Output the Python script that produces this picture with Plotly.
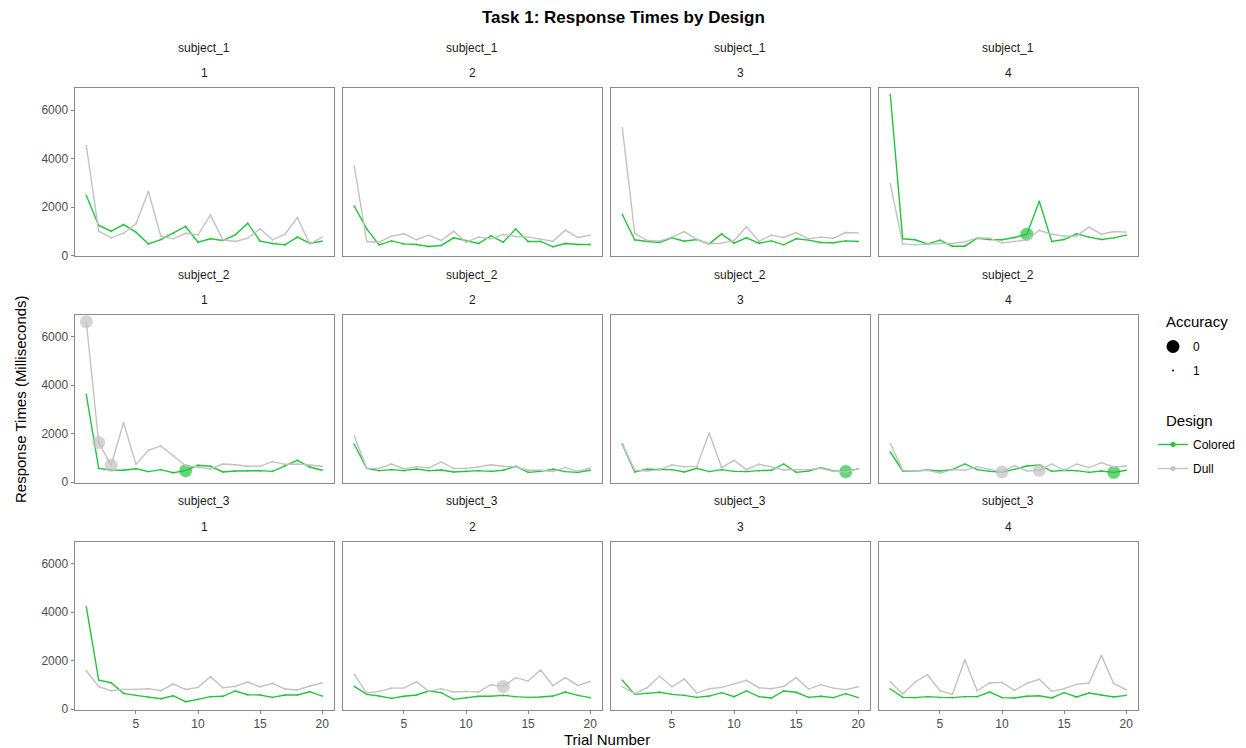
import plotly.graph_objects as go

W, H = 1246, 748
GREEN = "#22C43C"
GREY = "#C2C2C2"
FONT = "Liberation Sans, Arial, sans-serif"

subjects = ["subject_1", "subject_2", "subject_3"]
designs = ["1", "2", "3", "4"]
trials = list(range(1, 21))

# response times in ms, one list of 20 trials per design (1..4)
colored_s1 = [
    [2480, 1240, 1005, 1280, 965, 480, 660, 920, 1200, 550, 690, 620, 855, 1335, 590, 495, 440, 760, 510, 590],
    [2040, 1100, 440, 605, 480, 455, 370, 415, 730, 620, 495, 815, 550, 1100, 580, 580, 360, 495, 455, 455],
    [1695, 650, 580, 535, 730, 590, 660, 480, 895, 510, 730, 510, 605, 440, 690, 635, 535, 525, 605, 580],
    [6650, 690, 650, 480, 635, 385, 385, 715, 660, 650, 745, 880, 2245, 580, 660, 895, 760, 660, 730, 840],
]
dull_s1 = [
    [4545, 1005, 730, 920, 1310, 2645, 800, 690, 920, 855, 1680, 650, 580, 715, 1100, 650, 880, 1570, 470, 760],
    [3690, 580, 550, 800, 895, 650, 840, 620, 1005, 550, 760, 690, 870, 785, 760, 690, 590, 1045, 745, 840],
    [5275, 920, 620, 590, 760, 990, 660, 480, 510, 620, 1185, 590, 840, 745, 950, 690, 760, 715, 950, 935],
    [2960, 480, 440, 470, 495, 495, 565, 730, 715, 525, 590, 635, 1045, 880, 800, 800, 1170, 880, 990, 965],
]
colored_s2 = [
    [3615, 565, 495, 485, 550, 430, 510, 385, 470, 690, 650, 415, 455, 470, 470, 440, 660, 895, 620, 485],
    [1560, 565, 470, 510, 470, 540, 470, 495, 415, 430, 470, 440, 485, 650, 400, 440, 525, 430, 400, 485],
    [1560, 415, 525, 525, 510, 415, 565, 430, 510, 440, 430, 470, 485, 745, 400, 455, 595, 455, 430, 540],
    [1240, 455, 455, 495, 455, 510, 745, 510, 440, 415, 525, 660, 705, 440, 485, 470, 400, 455, 400, 485],
]
dull_s2 = [
    [6620, 1630, 690, 2455, 730, 1310, 1490, 1100, 675, 620, 540, 745, 715, 650, 660, 840, 730, 745, 705, 650],
    [1905, 565, 565, 745, 540, 635, 580, 830, 565, 565, 620, 715, 650, 620, 485, 485, 430, 605, 440, 580],
    [1585, 485, 455, 510, 705, 635, 635, 2030, 595, 895, 510, 730, 635, 495, 510, 510, 565, 440, 415, 540],
    [1585, 485, 455, 485, 370, 510, 485, 635, 525, 415, 675, 455, 485, 745, 485, 745, 595, 800, 620, 660],
]
colored_s3 = [
    [4220, 1195, 1085, 645, 565, 480, 425, 550, 300, 400, 510, 525, 745, 590, 580, 480, 580, 580, 715, 535],
    [935, 605, 535, 440, 525, 580, 745, 675, 400, 455, 525, 525, 565, 510, 480, 495, 535, 700, 565, 470],
    [1185, 605, 645, 690, 605, 565, 480, 535, 675, 510, 745, 510, 455, 745, 690, 480, 525, 470, 635, 470],
    [825, 480, 470, 510, 480, 470, 510, 510, 700, 470, 455, 525, 550, 455, 675, 495, 660, 565, 495, 565],
]
dull_s3 = [
    [1580, 920, 755, 810, 810, 840, 755, 1030, 810, 895, 1335, 880, 935, 1115, 920, 1060, 825, 785, 950, 1075],
    [1430, 660, 730, 865, 865, 1130, 730, 840, 700, 730, 700, 1005, 935, 1295, 1155, 1610, 965, 1295, 975, 1140],
    [920, 635, 880, 1360, 920, 1240, 660, 840, 895, 1045, 1185, 880, 840, 935, 1295, 825, 1005, 865, 800, 920],
    [1130, 620, 1115, 1415, 755, 605, 2035, 755, 1075, 1100, 770, 1060, 1225, 730, 840, 1020, 1075, 2215, 1045, 800],
]

colored = [colored_s1, colored_s2, colored_s3]
dull = [dull_s1, dull_s2, dull_s3]

# trials with accuracy 0, keyed by (subject index, design index)
colored_errors = {(0, 3): [12], (1, 0): [9], (1, 2): [19], (1, 3): [19]}
dull_errors = {(1, 0): [1, 2, 3], (1, 3): [10, 13], (2, 1): [13]}

# panel boxes in pixels
col_px = [(74.5, 334), (342.5, 602), (610.5, 870), (878.5, 1138)]
row_px = [(88, 256), (314.5, 482.5), (541.5, 709.5)]


def fx(p):
    return p / W


def fy(p):
    return 1 - p / H


def label(x, y, text, size=12, color="#1a1a1a", xanchor="center", **kw):
    return dict(x=fx(x), y=fy(y), text=text, showarrow=False, xref="paper", yref="paper",
                xanchor=xanchor, yanchor="middle", font=dict(size=size, color=color), **kw)


fig = go.Figure()
annotations = []

for r, subj in enumerate(subjects):
    for c, des in enumerate(designs):
        k = r * 4 + c + 1
        xa = "x" if k == 1 else f"x{k}"
        ya = "y" if k == 1 else f"y{k}"
        for series, errs, color in [(colored, colored_errors, GREEN), (dull, dull_errors, GREY)]:
            vals = series[r][c]
            bad = errs.get((r, c), [])
            fig.add_trace(go.Scatter(x=trials, y=vals, mode="lines", line=dict(color=color, width=1.4),
                                     xaxis=xa, yaxis=ya, showlegend=False, hoverinfo="skip"))
            fig.add_trace(go.Scatter(x=trials, y=vals, mode="markers",
                                     marker=dict(color=color, size=[13 if t in bad else 2 for t in trials],
                                                 line=dict(width=0)),
                                     xaxis=xa, yaxis=ya, showlegend=False))

        x0, x1 = col_px[c]
        y0, y1 = row_px[r]
        first_col = c == 0
        last_row = r == 2
        fig.layout[f"xaxis{'' if k == 1 else k}"] = dict(
            domain=[fx(x0), fx(x1)], anchor=ya, range=[0.05, 20.95],
            showgrid=False, zeroline=False, showline=True, mirror=True,
            linecolor="#8a8a8a", linewidth=1,
            tickvals=[5, 10, 15, 20], showticklabels=last_row,
            ticks="outside" if last_row else "", ticklen=3, tickcolor="#8a8a8a",
            tickfont=dict(size=12, color="#4d4d4d"),
        )
        fig.layout[f"yaxis{'' if k == 1 else k}"] = dict(
            domain=[fy(y1), fy(y0)], anchor=xa, range=[-20, 6920],
            showgrid=False, zeroline=False, showline=True, mirror=True,
            linecolor="#8a8a8a", linewidth=1,
            tickvals=[0, 2000, 4000, 6000], ticktext=["0", "2000", "4000", "6000"],
            showticklabels=first_col,
            ticks="outside" if first_col else "", ticklen=3, tickcolor="#8a8a8a",
            tickfont=dict(size=12, color="#4d4d4d"),
        )
        cx = (x0 + x1) / 2
        annotations.append(label(cx, y0 - 40, subj))
        annotations.append(label(cx, y0 - 15, des))

# legend entries: Accuracy in the first legend, Design in the second
fig.add_trace(go.Scatter(x=[None], y=[None], mode="markers", marker=dict(color="black", size=13),
                         name="0", legendgroup="acc0", legend="legend"))
fig.add_trace(go.Scatter(x=[None], y=[None], mode="markers", marker=dict(color="black", size=2),
                         name="1", legendgroup="acc1", legend="legend"))
fig.add_trace(go.Scatter(x=[None], y=[None], mode="lines+markers", line=dict(color=GREEN, width=1.4),
                         marker=dict(color=GREEN, size=5), name="Colored", legendgroup="des0",
                         legend="legend2"))
fig.add_trace(go.Scatter(x=[None], y=[None], mode="lines+markers", line=dict(color=GREY, width=1.4),
                         marker=dict(color=GREY, size=5), name="Dull", legendgroup="des1",
                         legend="legend2"))

annotations.append(label(623, 18, "<b>Task 1: Response Times by Design</b>", size=17, color="black"))
annotations.append(label(20, 399, "Response Times (Milliseconds)", size=15, color="black", textangle=-90))
annotations.append(label(607, 739, "Trial Number", size=15, color="black"))
annotations.append(label(1164, 322, "Accuracy", size=15, color="black", xanchor="left"))
annotations.append(label(1164, 420, "Design", size=15, color="black", xanchor="left"))

legend_style = dict(xanchor="left", yanchor="top", font=dict(size=12, color="black"),
                    tracegroupgap=5, itemwidth=30, bgcolor="rgba(0,0,0,0)")

fig.update_layout(
    width=W, height=H,
    margin=dict(l=0, r=0, t=0, b=0, autoexpand=False),
    paper_bgcolor="white", plot_bgcolor="white",
    font=dict(family=FONT),
    annotations=annotations,
    legend=dict(x=fx(1153), y=fy(332), **legend_style),
    legend2=dict(x=fx(1153), y=fy(430), **legend_style),
)

fig.write_html("out.html", config={"displayModeBar": False},
               post_script="document.body.style.margin='0';document.body.style.overflow='hidden';")
